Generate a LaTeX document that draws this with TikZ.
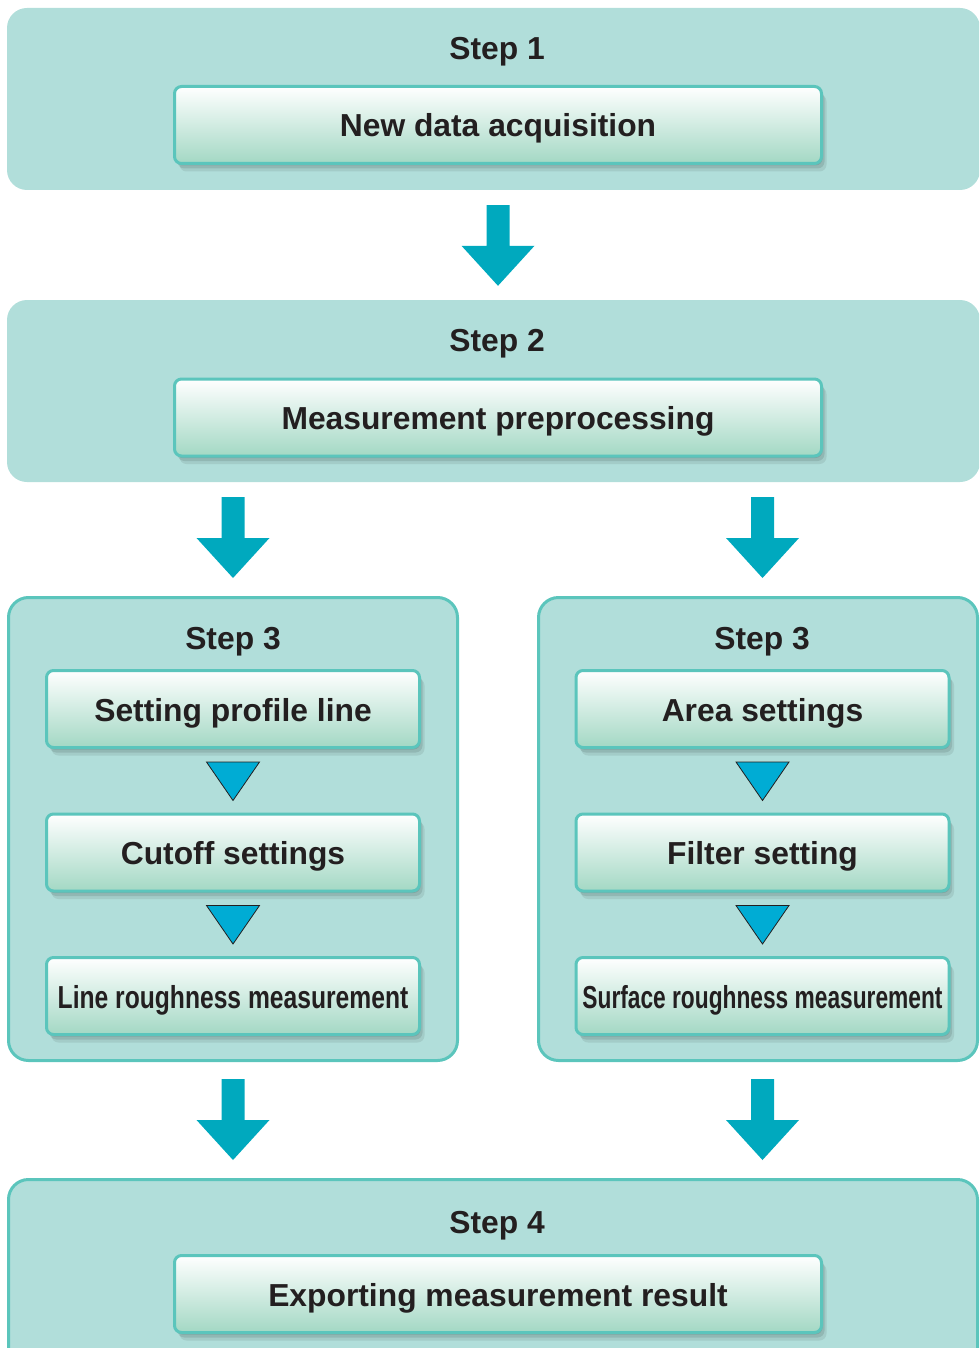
\documentclass[tikz,border=0pt]{standalone}
\usepackage{fontspec}
\setsansfont{Liberation Sans}
\usetikzlibrary{calc,shadows}
\definecolor{PanelFill}{HTML}{B1DEDA}
\definecolor{PanelLine}{HTML}{5BC5BC}
\definecolor{FlowBlue}{HTML}{00A9BE}
\definecolor{TriBlue}{HTML}{00ACD4}
\definecolor{BoxBottom}{HTML}{A3D8C4}
\definecolor{InkDark}{HTML}{231F20}
\newcommand\flowfont{\sffamily\bfseries\fontsize{31.8}{38}\selectfont}
% block arrow: #1 top of shaft, #2 tip
\newcommand\flowarrow[2]{%
  \fill[FlowBlue] ($(#1)+(-11.5,0)$) -- ($(#1)+(11.5,0)$) -- ($(#2)+(11.5,-40)$)
    -- ($(#2)+(36.5,-40)$) -- (#2) -- ($(#2)+(-36.5,-40)$) -- ($(#2)+(-11.5,-40)$) -- cycle;}
% small triangle between two boxes of a step
\newcommand\steptri[2]{%
  \filldraw[TriBlue,draw=InkDark,line width=0.8pt] ($(#1.south)+(-26.5,13)$)
    -- ($(#1.south)+(26.5,13)$) -- ($(#2.north)+(0,-12)$) -- cycle;}

\begin{document}
\begin{tikzpicture}[x=1pt,y=-1pt,
  panel/.style={rectangle,rounded corners=20pt,fill=PanelFill,inner sep=0pt},
  framed/.style={draw=PanelLine,line width=3pt},
  steplabel/.style={font=\flowfont,text=InkDark},
  flowbox/.style={rectangle,rounded corners=7pt,draw=PanelLine,line width=3pt,
    top color=white,bottom color=BoxBottom,
    drop shadow={shadow xshift=1pt,shadow yshift=-2pt,opacity=0.10,fill=black},
    drop shadow={shadow xshift=3pt,shadow yshift=-5pt,opacity=0.10,fill=black},
    drop shadow={shadow xshift=5pt,shadow yshift=-8pt,opacity=0.08,fill=black},
    font=\flowfont,text=InkDark,text height=31pt,text depth=7pt,
    minimum height=77pt,inner sep=0pt}]
  \useasboundingbox (0,0) rectangle (979,1348);
  \clip (0,0) rectangle (979,1348);

  % panels
  \node[panel,minimum width=973pt,minimum height=182pt] (p1) at (493.5,99) {};
  \node[panel,minimum width=973pt,minimum height=182pt] (p2) at (493.5,391) {};
  \node[panel,framed,minimum width=449pt,minimum height=463pt] (p3l) at (233,829) {};
  \node[panel,framed,minimum width=439pt,minimum height=463pt] (p3r) at (758,829) {};
  \node[panel,framed,minimum width=969pt,minimum height=230pt] (p4) at (493,1294.5) {};

  % step titles
  \node[steplabel] (s1) at (497,52) {Step 1};
  \node[steplabel] (s2) at (497,344) {Step 2};
  \node[steplabel] (s3l) at (233,642) {Step 3};
  \node[steplabel] (s3r) at (762,642) {Step 3};
  \node[steplabel] (s4) at (497,1226) {Step 4};

  % boxes
  \node[flowbox,minimum width=647pt] (b1) at (498,125) {New data acquisition};
  \node[flowbox,minimum width=647pt] (b2) at (498,417.5) {Measurement preprocessing};
  \node[flowbox,minimum width=373pt] (l1) at (233,709) {Setting profile line};
  \node[flowbox,minimum width=373pt] (l2) at (233,852.5) {Cutoff settings};
  \node[flowbox,minimum width=373pt] (l3) at (233,996) {\scalebox{0.775}[1]{Line roughness measurement}};
  \node[flowbox,minimum width=373pt] (r1) at (762.5,709) {Area settings};
  \node[flowbox,minimum width=373pt] (r2) at (762.5,852.5) {Filter setting};
  \node[flowbox,minimum width=373pt] (r3) at (762.5,996) {\scalebox{0.715}[1]{Surface roughness measurement}};
  \node[flowbox,minimum width=647pt] (b4) at (498,1294) {Exporting measurement result};

  % arrows between steps
  \coordinate (a1t) at ($(b1 |- p1.south)+(0,15)$);
  \coordinate (a1b) at ($(b1 |- p2.north)+(0,-14)$);
  \coordinate (a2t) at ($(l1 |- p2.south)+(0,15)$);
  \coordinate (a2b) at ($(l1 |- p3l.north)+(0,-18)$);
  \coordinate (a3t) at ($(r1 |- p2.south)+(0,15)$);
  \coordinate (a3b) at ($(r1 |- p3r.north)+(0,-18)$);
  \coordinate (a4t) at ($(l3 |- p3l.south)+(0,17)$);
  \coordinate (a4b) at ($(l3 |- p4.north)+(0,-18)$);
  \coordinate (a5t) at ($(r3 |- p3r.south)+(0,17)$);
  \coordinate (a5b) at ($(r3 |- p4.north)+(0,-18)$);
  \flowarrow{a1t}{a1b}
  \flowarrow{a2t}{a2b}
  \flowarrow{a3t}{a3b}
  \flowarrow{a4t}{a4b}
  \flowarrow{a5t}{a5b}

  % triangles inside step 3
  \steptri{l1}{l2}
  \steptri{l2}{l3}
  \steptri{r1}{r2}
  \steptri{r2}{r3}
\end{tikzpicture}
\end{document}
